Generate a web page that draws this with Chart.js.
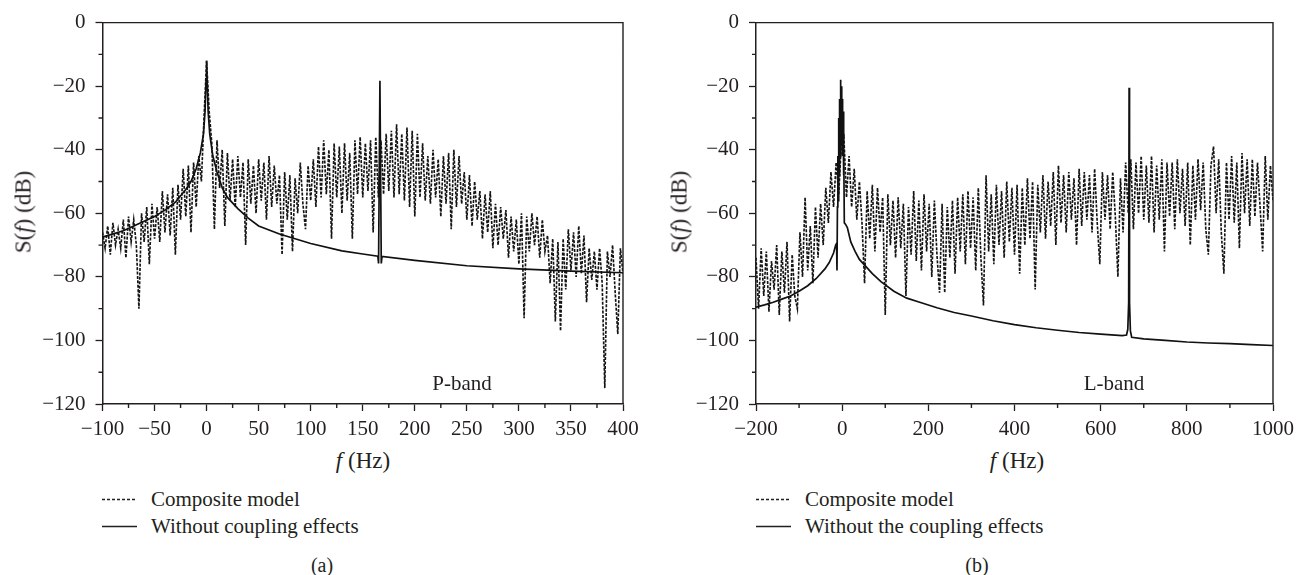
<!DOCTYPE html>
<html>
<head>
<meta charset="utf-8">
<script src="https://cdn.jsdelivr.net/npm/chart.js@4.4.0/dist/chart.umd.min.js"></script>
<style>
  body { margin: 0; background: #fff; width: 1300px; height: 575px; position: relative; overflow: hidden;
         font-family: "Liberation Serif", "DejaVu Serif", serif; color: #231f20; }
  canvas { position: absolute; top: 0; }
  .lbl { position: absolute; white-space: nowrap; font-size: 21px; line-height: 1; transform: translate(-50%, -50%); }
  .ttl { font-size: 23px; }
  .ytitle { transform: translate(-50%, -50%) rotate(-90deg); }
  .leg { position: absolute; white-space: nowrap; font-size: 21px; line-height: 1; display: flex; align-items: center; transform: translateY(-50%); }
  .leg svg { margin-right: 14px; }
</style>
</head>
<body>
<canvas id="chart-p" width="650" height="440" style="left:0;width:650px;height:440px"></canvas>
<canvas id="chart-l" width="650" height="440" style="left:650px;width:650px;height:440px"></canvas>

<div class="lbl ttl ytitle" style="left:23px;top:212px">S(<i>f</i>) (dB)</div>
<div class="lbl ttl ytitle" style="left:679px;top:212px">S(<i>f</i>) (dB)</div>
<div class="lbl ttl" style="left:363px;top:460px"><i>f</i> (Hz)</div>
<div class="lbl ttl" style="left:1017px;top:460px"><i>f</i> (Hz)</div>
<div class="lbl" style="left:462px;top:383px">P-band</div>
<div class="lbl" style="left:1114px;top:383px">L-band</div>

<div class="leg" style="left:102px;top:499px"><svg width="35" height="4"><line x1="0" y1="2" x2="35" y2="2" stroke="#231f20" stroke-width="1.3" stroke-dasharray="3 2"/></svg>Composite model</div>
<div class="leg" style="left:102px;top:526px"><svg width="35" height="4"><line x1="0" y1="2" x2="35" y2="2" stroke="#231f20" stroke-width="1.6"/></svg>Without coupling effects</div>
<div class="leg" style="left:756px;top:499px"><svg width="35" height="4"><line x1="0" y1="2" x2="35" y2="2" stroke="#231f20" stroke-width="1.3" stroke-dasharray="3 2"/></svg>Composite model</div>
<div class="leg" style="left:756px;top:526px"><svg width="35" height="4"><line x1="0" y1="2" x2="35" y2="2" stroke="#231f20" stroke-width="1.6"/></svg>Without the coupling effects</div>

<div class="lbl" style="left:322px;top:565px;font-size:20px">(a)</div>
<div class="lbl" style="left:977px;top:565px;font-size:20px">(b)</div>

<script>
// ---- P-band, panel (a) ----
// composite model, sampled every 2.5 Hz from -100 Hz (one row = 20 Hz)
const pFreqStart = -100, pFreqStep = 2.5;
const pComposite = [
  -66, -71, -64, -73, -63, -70, -65, -71,   // -100
  -62, -74, -61, -69, -62, -70, -90, -60,   // -80
  -69, -58, -76, -57, -68, -58, -69, -53,   // -60
  -66, -54, -67, -52, -73, -51, -62, -46,   // -40
  -61, -45, -66, -44, -58, -42, -50, -30,   // -20
  -12, -28, -38, -65, -37, -52, -40, -64,   // 0
  -41, -56, -43, -58, -42, -55, -44, -70,   // 20
  -43, -57, -45, -60, -43, -56, -44, -62,   // 40
  -42, -58, -45, -57, -48, -73, -47, -62,   // 60
  -48, -72, -49, -60, -44, -57, -65, -45,   // 80
  -56, -43, -58, -39, -55, -37, -54, -40,   // 100
  -68, -38, -55, -39, -60, -38, -56, -41,   // 120
  -68, -37, -54, -36, -55, -38, -53, -37,   // 140
  -66, -36, -55, -37, -54, -35, -53, -34,   // 160
  -55, -32, -54, -35, -56, -33, -58, -34,   // 180
  -61, -35, -55, -38, -56, -42, -57, -40,   // 200
  -55, -43, -61, -42, -57, -41, -65, -40,   // 220
  -58, -42, -57, -47, -62, -48, -64, -50,   // 240
  -62, -53, -68, -54, -66, -53, -71, -57,   // 260
  -70, -58, -68, -59, -74, -61, -72, -62,   // 280
  -76, -60, -93, -61, -72, -60, -70, -61,   // 300
  -74, -62, -72, -67, -82, -68, -94, -69,   // 320
  -97, -68, -84, -65, -78, -66, -80, -64,   // 340
  -79, -67, -88, -71, -81, -72, -84, -71,   // 360
  -82, -115, -72, -80, -70, -85, -98, -71,  // 380
  -79                                       // 400
];
// without coupling effects
const pSolidFreq = [-100, -80, -60, -50, -40, -30, -20, -15, -10, -6,
  -3, -1.5, -0.5, 0, 0.5, 1.5, 3, 6, 10, 15,
  20, 30, 40, 50, 70, 100, 130, 150, 164.5, 165.2,
  166.5, 167.8, 168.5, 200, 250, 300, 350, 400];
const pSolid = [-67.5, -65.5, -62.5, -61, -59, -56.5, -52.5, -50, -46, -41,
  -35, -28, -18, -12, -18, -28, -35, -42, -47, -52,
  -55, -58.5, -61.5, -64, -66.5, -69.5, -71.8, -72.8, -73.5, -75.8,
  -18.3, -75.8, -73.6, -74.8, -76.5, -77.5, -78.2, -78.7];
const pXTicks = [-100, -50, 0, 50, 100, 150, 200, 250, 300, 350, 400];
const pXMinor = [-75, -25, 25, 75, 125, 175, 225, 275, 325, 375];

// ---- L-band, panel (b) ----
// composite model, sampled every 6 Hz from -200 Hz (one row = 48 Hz)
const lFreqStart = -200, lFreqStep = 6;
const lComposite = [
  -74, -90, -71, -86, -72, -91, -75, -84,   // -200
  -70, -92, -72, -85, -69, -94, -73, -86,   // -152
  -90, -66, -80, -55, -78, -64, -82, -58,   // -104
  -74, -57, -70, -52, -63, -47, -58, -44,   // -56
  -54, -38, -36, -55, -42, -58, -46, -62,   // -8
  -50, -63, -82, -53, -68, -51, -72, -52,   // 40
  -66, -55, -92, -54, -70, -56, -74, -55,   // 88
  -71, -57, -86, -58, -73, -53, -75, -56,   // 136
  -78, -54, -72, -57, -80, -56, -73, -85,   // 184
  -57, -85, -58, -74, -56, -79, -55, -72,   // 232
  -54, -76, -53, -71, -55, -78, -52, -74,   // 280
  -89, -48, -72, -54, -76, -51, -70, -53,   // 328
  -74, -50, -69, -52, -73, -51, -79, -52,   // 376
  -70, -49, -68, -50, -84, -51, -66, -48,   // 424
  -68, -50, -64, -47, -70, -45, -63, -48,   // 472
  -66, -47, -62, -49, -70, -46, -64, -47,   // 520
  -62, -48, -66, -46, -63, -76, -47, -62,   // 568
  -48, -65, -47, -61, -80, -49, -66, -44,   // 616
  -60, -43, -65, -44, -60, -42, -62, -45,   // 664
  -63, -42, -66, -45, -62, -43, -72, -44,   // 712
  -61, -44, -65, -43, -60, -46, -64, -44,   // 760
  -70, -45, -62, -43, -59, -44, -65, -73,   // 808
  -45, -39, -60, -43, -66, -79, -44, -62,   // 856
  -42, -63, -44, -71, -41, -60, -43, -64,   // 904
  -43, -61, -44, -58, -72, -42, -62, -45,   // 952
  -56                                       // 1000
];
const lSolidFreq = [-200, -180, -160, -140, -120, -100, -80, -60, -40, -30,
  -20, -15, -13, -12, -11, -10, -9, -8, -7, -6,
  -5, -4, -3, -2, -1, 0, 1, 2, 3, 4,
  5, 8, 12, 20, 30, 40, 50, 70, 90, 120,
  150, 180, 220, 260, 300, 350, 400, 450, 500, 550,
  600, 650, 660, 663, 665, 666, 667, 669, 672, 700,
  750, 800, 850, 900, 950, 1000];
const lSolid = [-89.5, -88.8, -88, -87, -86, -84.5, -82.8, -80.5, -77.5, -75.5,
  -72.5, -70, -69.5, -78, -58, -42, -56, -30, -48, -24,
  -42, -18, -32, -20, -38, -24, -42, -28, -48, -38,
  -63, -63.5, -64.5, -69, -72, -74.5, -76, -79, -81.5, -84.5,
  -86.7, -88, -89.7, -91.2, -92.3, -93.8, -95, -96, -96.8, -97.5,
  -98, -98.5, -98.3, -96.5, -88, -20.5, -88, -97, -99, -99.5,
  -100, -100.5, -100.8, -101, -101.3, -101.6];
const lXTicks = [-200, 0, 200, 400, 600, 800, 1000];
const lXMinor = [-100, 100, 300, 500, 700, 900];

const yTicks = [0, -20, -40, -60, -80, -100, -120];
const yMinor = [-10, -30, -50, -70, -90, -110];

const ink = '#231f20';
const serif = '"Liberation Serif", "DejaVu Serif", serif';
const tickFont = { family: serif, size: 21 };
const fmt = v => (v < 0 ? '\u2212' + Math.abs(v) : String(v));
Chart.defaults.font.family = serif;

// top/right frame + minor ticks (positions come from the chart's scales)
const frameAndMinor = {
  id: 'frameAndMinor',
  afterDraw(chart, args, opts) {
    const { ctx, chartArea: a, scales: { x, y } } = chart;
    ctx.save();
    ctx.strokeStyle = ink;
    ctx.lineWidth = 1.4;
    ctx.beginPath();
    ctx.moveTo(a.left, a.top);
    ctx.lineTo(a.right, a.top);
    ctx.lineTo(a.right, a.bottom);
    opts.xMinor.forEach(v => {
      const px = x.getPixelForValue(v);
      ctx.moveTo(px, a.bottom);
      ctx.lineTo(px, a.bottom + 4);
    });
    yMinor.forEach(v => {
      const py = y.getPixelForValue(v);
      ctx.moveTo(a.left, py);
      ctx.lineTo(a.left - 4, py);
    });
    ctx.stroke();
    ctx.restore();
  }
};

function build(id, cfg) {
  const composite = cfg.composite.map((v, i) => ({ x: cfg.start + i * cfg.step, y: v }));
  const solid = cfg.solid.map((v, i) => ({ x: cfg.solidFreq[i], y: v }));
  return new Chart(document.getElementById(id), {
    type: 'line',
    data: {
      datasets: [
        { label: 'Composite model', data: composite, borderColor: '#141414', borderWidth: 1.65,
          borderDash: [3, 1.4], order: 1 },
        { label: cfg.solidLabel, data: solid, borderColor: '#111', borderWidth: 1.7, order: 0 }
      ]
    },
    options: {
      responsive: false,
      animation: false,
      devicePixelRatio: 1,
      layout: { padding: { top: 20, right: cfg.padRight, left: 0, bottom: 0 } },
      elements: { point: { radius: 0 }, line: { tension: 0 } },
      plugins: { legend: { display: false }, tooltip: { enabled: false }, frameAndMinor: { xMinor: cfg.xMinor } },
      scales: {
        x: {
          type: 'linear', min: cfg.xMin, max: cfg.xMax,
          afterBuildTicks: s => { s.ticks = cfg.xTicks.map(v => ({ value: v })); },
          afterFit: s => { s.height = 36; },
          ticks: { font: tickFont, color: ink, padding: 6, maxRotation: 0, autoSkip: false, callback: fmt },
          grid: { drawOnChartArea: false, tickLength: 7, color: ink, tickWidth: 1.3 },
          border: { color: ink, width: 1.5 }
        },
        y: {
          min: -120, max: 0,
          afterBuildTicks: s => { s.ticks = yTicks.map(v => ({ value: v })); },
          afterFit: s => { s.width = cfg.yWidth; },
          ticks: { font: tickFont, color: ink, padding: 10, autoSkip: false, callback: fmt },
          grid: { drawOnChartArea: false, tickLength: 7, color: ink, tickWidth: 1.3 },
          border: { color: ink, width: 1.5 }
        }
      }
    },
    plugins: [frameAndMinor]
  });
}

build('chart-p', {
  composite: pComposite, start: pFreqStart, step: pFreqStep,
  solidFreq: pSolidFreq, solid: pSolid, solidLabel: 'Without coupling effects',
  xMin: -100, xMax: 400, xTicks: pXTicks, xMinor: pXMinor, yWidth: 102.5, padRight: 27
});
build('chart-l', {
  composite: lComposite, start: lFreqStart, step: lFreqStep,
  solidFreq: lSolidFreq, solid: lSolid, solidLabel: 'Without the coupling effects',
  xMin: -200, xMax: 1000, xTicks: lXTicks, xMinor: lXMinor, yWidth: 106, padRight: 22
});
</script>
</body>
</html>
